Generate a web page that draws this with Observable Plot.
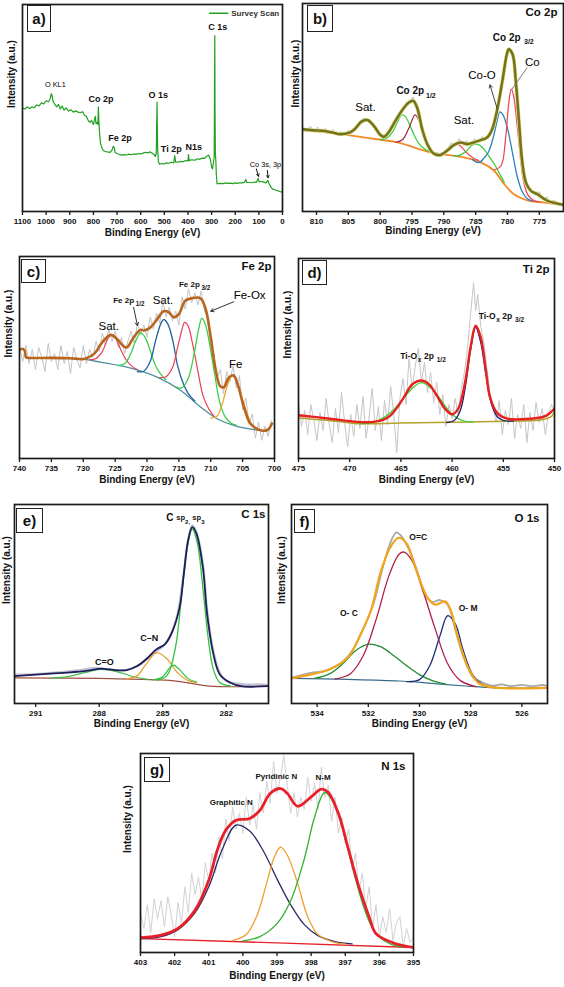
<!DOCTYPE html>
<html><head><meta charset="utf-8">
<script src="https://cdn.jsdelivr.net/npm/d3@7"></script>
<script src="https://cdn.jsdelivr.net/npm/@observablehq/plot@0.6"></script>
<style>
body{margin:0;background:#fff;}
#root{position:relative;width:564px;height:987px;overflow:hidden;background:#fff;font-family:"Liberation Sans",Arial,sans-serif;}
.tag{position:absolute;border:1.6px solid #222;background:#fff;font-weight:bold;font-size:15px;display:flex;align-items:center;justify-content:center;box-sizing:border-box;line-height:1;color:#111;}
</style></head><body><div id="root"></div>
<script>
// ---------------- DATA (x = binding energy eV, y = relative intensity 0..100) ----------------
// Panel a: survey
const aTicks = [1100,1000,900,800,700,600,500,400,300,200,100,0];
const aSurvey = [[1100,50],[1090,49.5],[1080,50.5],[1070,49.8],[1060,50.6],[1050,50.2],[1040,51.5],[1030,51],[1020,52.5],[1010,52],[1000,53.5],[990,53],[983,54.5],[978,57],[975,56],[970,53],[962,51.5],[955,50.5],[948,51.8],[940,49.5],[932,51],[925,49],[915,50],[905,48.5],[895,49.2],[885,48],[875,48.6],[865,48],[855,47.8],[845,48.2],[838,46.5],[830,46],[822,44],[815,43],[808,44],[800,42],[795,44.5],[792,46],[789,42.5],[785,43],[781,42],[779,50.5],[777,44],[774,38],[770,33],[765,31],[758,29.5],[750,29],[740,28.8],[730,28.5],[722,29.5],[716,31.5],[712,31],[708,28.5],[700,28],[690,27.5],[680,27.2],[670,27.5],[660,27.3],[650,27.7],[640,27.4],[630,27.8],[620,27.6],[610,28],[600,27.8],[590,28.2],[580,28.6],[570,28.3],[560,28.8],[550,28],[543,27.6],[538,26.5],[534,28],[531,52.8],[528,30],[525,24],[520,22.8],[510,23.2],[500,23],[490,23.5],[480,23.3],[470,23.8],[460,23.5],[456,27],[452,23.8],[440,24],[430,24.2],[420,24],[410,24.6],[400,24.4],[398,27.5],[395,24.6],[385,25],[370,24.8],[360,25.5],[350,25.2],[340,25.8],[330,25.6],[320,26.8],[312,27.2],[305,25],[300,21.5],[296,20.6],[292,23.8],[289,26],[287.5,60],[286.4,85],[285.5,50],[284,28],[282,24.5],[280,18],[277,13.4],[270,13.5],[260,13.6],[250,13.5],[240,13.8],[230,13.6],[220,13.7],[210,13.5],[200,13.8],[190,13.6],[180,13.9],[170,13.8],[160,14.2],[155,15.5],[151,14],[140,14],[130,13.9],[120,14.2],[110,14.1],[103,16],[99,14.3],[90,14.5],[80,14.2],[70,13.8],[62,15],[58,13.8],[50,12],[42,10.8],[30,10.4],[20,10],[10,9.6],[0,9.3]];
const aBoldLabels = [{x:768.3,y:54.3,t:"Co 2p"},{x:687.5,y:35.6,t:"Fe 2p"},{x:525.9,y:56,t:"O 1s"},{x:470.6,y:30.3,t:"Ti 2p"},{x:375.7,y:31.1,t:"N1s"},{x:273.6,y:89,t:"C 1s"}];
const aSmallLabels = [{x:961,y:61.2,t:"O KL1"},{x:72.3,y:22.5,t:"Co 3s, 3p"}];
const aArrows = [{x1:110.6,y1:20.6,x2:102,y2:17},{x1:64,y1:19.8,x2:61,y2:16.3}];
const aLegendLine = [[309,95.8],[231,95.8]];
const aLegendText = [{x:217,y:95.8,t:"Survey Scan"}];

// Panel b: Co 2p
const bTicks = [810,805,800,795,790,785,780,775];
const bRaw = [[812.2,40.5],[811.6,38.5],[811,41],[810.4,39],[809.8,40.5],[809.2,38],[808.6,40],[808,37.5],[807.4,39.5],[806.8,37],[806.2,38.5],[805.6,36.5],[805,39],[804.4,38],[803.8,41.5],[803.2,42.5],[802.6,45],[802,43.5],[801.4,42],[800.8,40],[800.2,37],[799.6,36],[799,37.5],[798.4,39.5],[797.8,42],[797.2,46],[796.6,48.5],[796,51],[795.4,53.5],[794.8,55],[794.2,49],[793.6,42],[793,36],[792.4,31],[791.8,28.5],[791.2,27],[790.6,28],[790,28.5],[789.4,30.5],[788.8,33],[788.2,31.5],[787.6,35],[787,32.5],[786.4,34],[785.8,31.5],[785.2,35],[784.6,33],[784,36],[783.4,34.5],[782.8,37],[782.2,42],[781.6,50],[781,60],[780.4,71],[779.8,79],[779.2,75],[778.6,60],[778,39],[777.4,19],[776.8,12],[776.2,10.5],[775.6,8.5],[775,9.5],[774.4,6],[773.8,7],[773.2,4.5],[772.6,5.5],[772,3.5],[771.2,4]];
const bBg = [[812.2,39.1],[806.3,37.2],[802.6,35.6],[797.3,33.2],[792.1,28.4],[786.9,26],[784.2,23.6],[782.1,19.6],[780.5,13.1],[779,8.3],[776.9,5.4],[774.2,4.3],[771.2,3.2]];
const bSat1 = [[806,37.3],[804.5,38.5],[803.5,41],[802.6,43],[802,43.5],[801.2,41.5],[800.3,37.5],[799.5,35]];
const bGreen1 = [[800,34.5],[799,35.2],[798,38.5],[797.2,43.5],[796.6,46.5],[796,45.5],[795,39],[794,33],[793,30],[792,28.6],[791,28]];
const bRed1 = [[797.5,33.3],[796.5,34.5],[795.5,40],[794.5,46.5],[793.8,43],[793,35],[792.3,30],[791.5,28],[790.5,27.6]];
const bRed2 = [[791,27.6],[790,28],[789,30.5],[788.2,32.7],[787.4,31.5],[786.5,28.5],[785.5,26],[784.5,24.5]];
const bGreen2 = [[788.5,26.8],[787.5,27],[786.5,29],[785.5,32],[784.8,32.4],[784,31],[783,27],[782,22.5],[781.2,18],[780.5,14]];
const bBlue = [[785.5,25],[784.5,23.5],[783.6,26],[783,28.5],[782.2,36],[781.6,44],[781.2,47.9],[780.7,46.5],[780,40],[779.2,28],[778.4,16],[777.6,9],[776.8,6],[776,5]];
const bRedCo = [[782,20],[781,22],[780.3,35],[779.8,52],[779.4,58.8],[779,55],[778.5,42],[778,27],[777.5,15],[776.8,8],[776,5.5],[775,4.5]];
const bEnv = [[812.2,39.6],[810.5,39],[809,38.8],[807.5,38],[806.3,37.2],[805,37.7],[804,39.6],[802.9,43.3],[802,44],[801,41.2],[800,36.9],[799.4,35.9],[798.7,38],[797.6,43.6],[796.6,48.4],[795.5,52.4],[794.8,53.2],[794.2,50],[793.4,39.6],[792.6,32.4],[791.6,27.9],[790.5,27.2],[789.5,29.2],[788.4,32],[787.4,33.2],[786.3,32.4],[785.3,33.2],[784.2,34.3],[783.2,35.6],[782.4,39.6],[781.6,49.2],[780.8,62.8],[780.1,75.6],[779.8,78],[779.2,75.6],[778.7,62.8],[778.2,43.6],[777.7,24.4],[777.1,13.9],[776.3,9.9],[775.3,8.3],[773.7,5.1],[771.2,3.2]];
const bLabels = [{x:802.3,y:50,t:"Sat."},{x:786.85,y:43.6,t:"Sat."},{x:784.0,y:65.7,t:"Co-O"},{x:776.1,y:71.6,t:"Co"}];
const bBold = [{x:797.45,y:58,t:"Co 2p"},{x:782.3,y:83.3,t:"Co 2p"}];
const bSubs = [{x:792.8,y:55.8,t:"1/2"},{x:777.4,y:81.4,t:"3/2"}];
const bArrows = [{x1:781.6,y1:49.2,x2:782.75,y2:60.9}];
const bLinks = [{x1:776.9,y1:69.2,x2:779.3,y2:58.8}];

// Panel c: Fe 2p
const cTicks = [740,735,730,725,720,715,710,705,700];
const cRaw = [[740,55],[739.5,48],[739,56],[738.5,47],[738,54],[737.5,44],[737,55],[736.5,50],[736,43],[735.5,57],[735,48],[734.5,52],[734,44],[733.5,56],[733,47],[732.5,53],[732,42],[731.5,55],[731,49],[730.5,45],[730,56],[729.5,47],[729,54],[728.5,50],[728,58],[727.5,53],[727,62],[726.5,56],[726,64],[725.5,58],[725,63],[724.5,55],[724,60],[723.5,52],[723,58],[722.5,63],[722,57],[721.5,67],[721,61],[720.5,66],[720,60],[719.5,70],[719,64],[718.5,72],[718,67],[717.5,78],[717,70],[716.5,75],[716,68],[715.5,73],[715,66],[714.5,80],[714,74],[713.5,84],[713,77],[712.5,82],[712,76],[711.5,83],[711,73],[710.5,70],[710,55],[709.5,52],[709,40],[708.5,44],[708,32],[707.5,43],[707,38],[706.5,46],[706,35],[705.5,41],[705,24],[704.5,30],[704,17],[703.5,22],[703,10],[702.5,18],[702,9],[701.5,16],[701,11],[700.5,19]];
const cBg = [[738.8,49.9],[735,49.8],[730.4,49.3],[727.3,47.7],[722.1,44.4],[718.4,40.3],[714.7,33.7],[711.6,25.5],[709,19.7],[706.4,16.4],[703.2,14.3],[701.2,13.7]];
const cSat1 = [[729,48.8],[728,49.5],[727,53],[726.2,59],[725.6,61.3],[725,60],[724.2,54.5],[723.3,49],[722.3,45.5],[721.5,44]];
const cGreen1 = [[724.5,46],[723.5,47],[722.6,51.5],[721.8,58],[721,62.2],[720.3,60],[719.5,53.5],[718.6,45.5],[717.8,41.5],[717,39]];
const cBlue = [[721.5,43],[720.5,43.2],[719.5,48],[718.6,59],[717.8,67],[717.4,68.8],[716.8,67],[716,59],[715.2,46],[714.3,37],[713.5,32],[712.5,28.5]];
const cRed2 = [[718,40],[717,40.5],[716,45],[715.2,55],[714.5,64],[714.1,67.4],[713.6,66],[712.8,56],[712,43],[711.2,31],[710.3,24.5],[709.5,21]];
const cGreen2 = [[715.5,35.5],[714.5,35],[713.5,40],[712.6,52],[711.9,64],[711.4,69.4],[710.9,67],[710.2,57],[709.4,42],[708.6,28],[707.8,21],[706.8,17.5],[706,16.5]];
const cOrange = [[710,20],[709,21],[708.2,27],[707.4,36],[706.7,40.8],[706,39],[705.3,32],[704.5,24],[703.7,17.5],[703,15]];
const cEnv = [[740,53.5],[739.6,54.3],[739.2,53.5],[739,50.2],[738.8,49.9],[735,49.8],[732,49.6],[729.9,49.3],[728.3,51.8],[727,57.6],[725.7,61.2],[724.7,59.2],[723.6,55.4],[723.1,55.1],[722.1,60],[721,63.7],[720.5,63.4],[719.5,64.8],[718.4,69],[717.4,72.9],[716.6,72.4],[715.8,69.9],[715,71.5],[714,78.1],[712.9,79.4],[711.6,79.3],[710.8,74],[710,60],[709.3,45.2],[708.5,35.7],[707.9,35.4],[707.2,40],[706.4,41.1],[705.8,37],[704.8,25.5],[703.8,17.3],[702.5,14.3],[701.4,13.8],[700.9,14.6],[700.4,17.3]];
const cLabels = [{x:726.0,y:65.3,t:"Sat."},{x:717.5,y:78.1,t:"Sat."},{x:703.9,y:80.6,t:"Fe-Ox"},{x:706.1,y:46.5,t:"Fe"}];
const cBold = [{x:725.3,y:78.1,t:"Fe 2p"},{x:715.0,y:86,t:"Fe 2p"}];
const cSubs = [{x:721.75,y:76.4,t:"1/2"},{x:711.45,y:84.3,t:"3/2"}];
const cArrows = [{x1:722.1,y1:74.8,x2:721.5,y2:65.8},{x1:706.4,y1:77.6,x2:710.0,y2:72.9}];

// Panel d: Ti 2p
const dTicks = [475,470,465,460,455,450];
const dRaw = [[475,28],[474.7,16],[474.4,24],[474.1,12],[473.8,27],[473.5,19],[473.2,9],[472.9,23],[472.6,14],[472.3,30],[472,17],[471.7,8],[471.4,25],[471.1,13],[470.8,33],[470.5,18],[470.2,6],[469.9,22],[469.6,11],[469.3,27],[469,15],[468.7,31],[468.4,10],[468.1,21],[467.8,35],[467.5,14],[467.2,26],[466.9,9],[466.6,29],[466.3,17],[466,36],[465.7,22],[465.4,3],[465.1,30],[464.8,40],[464.5,27],[464.2,50],[463.9,35],[463.6,46],[463.3,55],[463,38],[462.7,48],[462.4,33],[462.1,43],[461.8,28],[461.5,38],[461.2,22],[460.9,32],[460.6,16],[460.3,27],[460,20],[459.7,30],[459.4,22],[459.1,35],[458.8,43],[458.5,55],[458.2,72],[457.9,88],[457.7,74],[457.5,82],[457.2,66],[456.9,58],[456.6,45],[456.3,33],[456,26],[455.7,18],[455.4,29],[455.1,12],[454.8,24],[454.5,17],[454.2,30],[453.9,10],[453.6,22],[453.3,15],[453,27],[452.7,8],[452.4,23],[452.1,14],[451.8,28],[451.5,18],[451.2,25],[450.9,12],[450.6,22],[450.3,27],[450,24]];
const dBg = [[475,20.3],[471,18.5],[469.3,17.4],[465,17.8],[460,18.1],[455,18.6],[452,19],[451,19.6],[450.3,21],[450,23.5]];
const dGreen = [[469,17.4],[468,17.8],[467,19.5],[466,23],[465,28.5],[464,34.5],[463,37.9],[462,35],[461,28.5],[460,22],[459,19],[458,18.2]];
const dNavy = [[460.5,18],[459.8,19],[459.2,24],[458.7,36],[458.2,54],[457.7,65.6],[457.2,58],[456.7,42],[456.2,28],[455.6,21],[455,19],[454,18.7]];
const dEnv = [[475,21.6],[473.5,20.8],[471.9,19.9],[469.3,18.3],[467.7,18.3],[466.8,19.2],[466,21.6],[465.3,26],[464.7,30.7],[463.9,37],[463,39],[462.3,37.3],[461.5,31.6],[460.7,24.9],[460,22.1],[459.4,24.9],[458.7,39],[458.2,55.6],[457.7,66.4],[457.2,60.6],[456.7,44],[456.3,30.7],[455.6,22.8],[454.6,19.9],[452.3,19.9],[451,21],[450.5,22.5],[450,25]];
const dBold = [{x:465.06,y:51,t:"Ti-O"},{x:462.75,y:51,t:"2p"},{x:457.4,y:70.9,t:"Ti-O"},{x:455.1,y:70.9,t:"2p"}];
const dSubs = [{x:463.35,y:49.4,t:"x"},{x:461.5,y:49.4,t:"1/2"},{x:455.7,y:69.3,t:"x"},{x:453.85,y:69.3,t:"3/2"}];

// Panel e: C 1s
const eTicks = [291,288,285,282];
const eRaw = [[292,14.5],[291,14.8],[290,15.6],[289,16.6],[288.3,17.8],[287.6,17.3],[287,16.5],[286.5,17.5],[286,20],[285.5,25],[285,28.5],[284.6,35],[284.3,45],[284,66],[283.8,82],[283.6,89.5],[283.4,86],[283.1,70],[282.9,47],[282.6,26],[282.3,15.5],[282,11.5],[281.5,10],[281,9.5],[280.5,9.6],[280,9.4]];
const eBg = [[292,12.9],[288,12.6],[286,12.1],[284.7,11.6],[283.8,10.4],[282.8,8.7],[280,8.7]];
const eGreenCO = [[290.3,12.8],[289.5,13.5],[288.7,15.5],[287.9,17.1],[287.1,15.8],[286.3,13.3],[285.7,12.1]];
const eOrangeCN = [[286.7,12.3],[286.2,14],[285.8,19.5],[285.3,25.5],[284.8,22.5],[284.3,15.5],[283.8,11.5],[283.4,10.6]];
const eGreenSmall = [[285.5,11.8],[285,13.5],[284.7,17.5],[284.5,19.3],[284.2,17],[283.8,12.5],[283.4,10.8]];
const eGreenMain = [[285.3,11.8],[284.8,14],[284.4,28],[284.1,55],[283.85,78],[283.6,87.7],[283.35,80],[283.1,58],[282.85,33],[282.6,17],[282.3,10.5],[281.8,8.8]];
const eEnv = [[292,13.8],[290.3,15],[288.7,16.3],[287.9,17.5],[287.5,17.1],[286.7,16.8],[286.2,18.8],[285.7,23],[285.3,27.2],[284.9,29.7],[284.6,34.8],[284.2,48.2],[284,65],[283.8,81.8],[283.6,88.6],[283.4,85.2],[283.1,68.4],[282.9,44.9],[282.6,24.7],[282.3,14.6],[281.8,10.4],[281.3,8.7],[280,8.7]];
const eBold = [{x:285.63,y:32.8,t:"C–N"},{x:287.75,y:21,t:"C=O"}];
const eBig = [{x:284.83,y:93.3,t:"C"}];
const eMid = [{x:284.36,y:93.3,t:"sp"},{x:283.6,y:93.3,t:"sp"}];
const eSubs = [{x:283.94,y:91.4,t:"2,"},{x:283.18,y:91.4,t:"3"}];

// Panel f: O 1s
const fTicks = [534,532,530,528,526];
const fRaw = [[535,13],[534.6,14.2],[534.2,15.5],[533.8,16],[533.4,17.8],[533,21],[532.6,27],[532.2,37.5],[531.8,50],[531.4,70],[531.1,82],[530.9,86],[530.7,84],[530.4,77],[530.1,67],[529.8,55],[529.5,51],[529.2,52],[528.9,49.5],[528.6,37],[528.3,24],[527.9,13],[527.6,11],[527.2,9],[526.8,9.6],[526.4,8.7],[526,9.4],[525.6,8.6],[525.2,9.3],[525,8.8]];
const fBg = [[535,12.6],[532.8,12.1],[530.8,11.3],[529.5,10.1],[528.2,8.8],[527,7.9],[525,7.9]];
const fGreen = [[534.1,12.6],[533.5,15],[533,20],[532.5,26.5],[532,29.8],[531.5,28.5],[531,24],[530.5,19],[530,14.5],[529.5,11.5],[529,9.8]];
const fCrimson = [[533.3,12.3],[532.7,15],[532.2,24],[531.7,42],[531.2,64],[530.8,75],[530.6,76.1],[530.3,72],[529.9,58],[529.4,38],[528.9,20],[528.4,11.5],[527.8,8.5]];
const fNavy = [[530.5,11],[530,12],[529.6,19],[529.2,34],[528.9,44.1],[528.6,40],[528.3,27],[527.9,14],[527.5,9.3],[527,8.1]];
const fEnv = [[535,12.6],[534.1,15],[533.5,17.2],[532.8,23.1],[532.3,34.8],[531.9,46.6],[531.5,66.8],[531.1,79.5],[530.8,83.3],[530.5,80.3],[530.1,66],[529.7,53.4],[529.4,49.7],[529,51.3],[528.8,47.5],[528.5,33.2],[528.1,18],[527.7,10.4],[527.2,8.2],[525,7.9]];
const fBold = [{x:530.05,y:83.7,t:"O=C"},{x:532.76,y:45.5,t:"O- C"},{x:528.1,y:47.8,t:"O- M"}];

// Panel g: N 1s
const gTicks = [403,402,401,400,399,398,397,396,395];
const gRaw = [[403,20],[402.9,12],[402.8,24],[402.7,10],[402.6,27],[402.5,17],[402.4,26],[402.3,13],[402.2,28],[402.1,19],[402,8],[401.9,25],[401.8,15],[401.7,33],[401.6,20],[401.5,40],[401.4,29],[401.3,38],[401.2,26],[401.1,45],[401,36],[400.9,50],[400.8,40],[400.7,58],[400.6,47],[400.5,67],[400.4,56],[400.3,73],[400.2,62],[400.1,70],[400,60],[399.9,78],[399.8,64],[399.7,74],[399.6,62],[399.5,80],[399.4,70],[399.3,86],[399.2,75],[399.1,96],[399,80],[398.9,88],[398.8,99],[398.7,84],[398.6,70],[398.5,80],[398.4,68],[398.3,78],[398.2,72],[398.1,88],[398,76],[397.9,85],[397.8,72],[397.7,93],[397.6,78],[397.5,84],[397.4,66],[397.3,78],[397.2,60],[397.1,68],[397,55],[396.9,62],[396.8,42],[396.7,50],[396.6,30],[396.5,40],[396.4,22],[396.3,33],[396.2,12],[396.1,24],[396,8],[395.9,18],[395.8,10],[395.7,22],[395.6,6],[395.5,15],[395.4,18],[395.3,3],[395.2,12],[395.1,5],[395,8]];
const gBg = [[403,7],[399,4.8],[395,2.5]];
const gNavy = [[403,7],[402.4,8],[401.9,11.5],[401.4,20],[401,33],[400.6,52],[400.2,64],[399.8,61],[399.4,51],[399,37],[398.6,24],[398.2,14],[397.8,8.5],[397.3,5.5],[396.8,4.3]];
const gOrange = [[400.3,6],[399.9,9],[399.6,18],[399.3,35],[399.1,47],[398.9,52.9],[398.7,49],[398.4,35],[398.1,18],[397.8,9],[397.4,5.5],[397,4.2]];
const gGreen = [[400,5.8],[399.5,8],[399,14.5],[398.6,26],[398.2,47],[397.9,68],[397.6,80.4],[397.3,74],[397,57],[396.7,37],[396.4,20],[396.1,9.5],[395.7,4.5],[395.3,2.8]];
const gEnv = [[403,7.5],[402.4,8.7],[401.9,12.1],[401.4,21.3],[401,36.3],[400.75,51.4],[400.5,61.5],[400.2,66.5],[399.8,67.3],[399.5,71.5],[399.2,79.9],[398.9,82.4],[398.7,80],[398.4,73.5],[398,78.2],[397.7,82.1],[397.5,80.5],[397.2,69.8],[396.9,51.4],[396.6,33],[396.3,17.9],[396.1,9.5],[395.6,4.9],[395,2.5]];
const gBold = [{x:400.34,y:75.4,t:"Graphitic N"},{x:399.02,y:88.3,t:"Pyridinic N"},{x:397.65,y:87.9,t:"N-M"}];

// ---------------- RENDERING ----------------
const root = document.getElementById("root");
const FONT = '"Liberation Sans", Arial, Helvetica, sans-serif';
const XT = "Binding Energy (eV)", YT = "Intensity (a.u.)";

function ln(data, stroke, sw, curve = "catmull-rom") {
  return Plot.line(data, {x: d => d[0], y: d => d[1], stroke, strokeWidth: sw, curve, clip: true, strokeLinejoin: "round", strokeLinecap: "round"});
}
function txt(data, o) {
  return Plot.text(data, {x: "x", y: "y", text: "t", fill: "#111", ...o});
}

function panel(cfg) {
  const [L, T, R, B] = cfg.box;
  const ml = cfg.ml, mr = 2, mt = 3, mb = 36;
  const marks = [
    ...cfg.marks,
    Plot.frame({stroke: "#1a1a1a", strokeWidth: 1.7}),
    Plot.axisX({ticks: cfg.ticks, tickSize: 4, tickPadding: 2.5, tickFormat: d => String(d), fontSize: 8, fontWeight: "bold", label: null, stroke: "#1a1a1a", strokeWidth: 1.3}),
    Plot.text([XT], {frameAnchor: "bottom", dy: cfg.xdy, fontSize: 10, fontWeight: "bold", fill: "#111"}),
    Plot.text([YT], {frameAnchor: "left", dx: cfg.ydx, rotate: -90, fontSize: 10, fontWeight: "bold", fill: "#111"})
  ];
  if (cfg.title) marks.push(Plot.text([cfg.title], {frameAnchor: "top-right", textAnchor: "end", lineAnchor: "middle", dx: cfg.tdx, dy: cfg.tdy, fontSize: 11.5, fontWeight: "bold", fill: "#111"}));
  const svg = Plot.plot({
    width: R - L + ml + mr, height: B - T + mt + mb,
    marginLeft: ml, marginRight: mr, marginTop: mt, marginBottom: mb,
    style: {fontFamily: FONT, fontSize: "8px", fontWeight: "bold", color: "#111", background: "transparent", overflow: "visible"},
    x: {domain: cfg.xDomain},
    y: {domain: [0, 100], axis: null},
    marks
  });
  svg.style.position = "absolute";
  svg.style.left = (L - ml) + "px";
  svg.style.top = (T - mt) + "px";
  svg.style.maxWidth = "none";
  root.appendChild(svg);
  const [tl, tt, tw, th] = cfg.tag;
  const div = document.createElement("div");
  div.className = "tag";
  div.textContent = cfg.tagText;
  Object.assign(div.style, {left: tl + "px", top: tt + "px", width: tw + "px", height: th + "px"});
  root.appendChild(div);
}

// a) survey
panel({box: [22, 4, 282, 211], ml: 22, xDomain: [1100, 0], ticks: aTicks, xdy: 24, ydx: -11,
  tag: [27, 5, 24, 27], tagText: "a)",
  marks: [
    ln(aSurvey, "#22a022", 1.2, "linear"),
    ln(aLegendLine, "#22a022", 1.4, "linear"),
    txt(aLegendText, {textAnchor: "start", fontSize: 8, fontWeight: "bold", fill: "#333"}),
    txt(aBoldLabels, {fontSize: 9, fontWeight: "bold"}),
    txt(aSmallLabels, {fontSize: 7.3, fontWeight: "normal", fill: "#000"}),
    Plot.arrow(aArrows, {x1: "x1", y1: "y1", x2: "x2", y2: "y2", stroke: "#111", strokeWidth: 1, headLength: 4})
  ]});

// b) Co 2p
panel({box: [302, 3, 563, 211], ml: 20, xDomain: [812.2, 771.2], ticks: bTicks, xdy: 22, ydx: -7,
  title: "Co 2p", tdx: -6, tdy: 9, tag: [307, 5, 26, 27], tagText: "b)",
  marks: [
    ln(bRaw, "#b9b9b9", 1, "linear"),
    ln(bBg, "#f08a2a", 1.8),
    ln(bSat1, "#33cc33", 1.2),
    ln(bGreen1, "#33cc33", 1.2),
    ln(bRed1, "#a01f45", 1.2),
    ln(bRed2, "#f0485a", 1.2),
    ln(bGreen2, "#33cc33", 1.2),
    ln(bBlue, "#2e7fbf", 1.3),
    ln(bRedCo, "#f0485a", 1.3),
    ln(bEnv, "#ebe6a0", 4),
    ln(bEnv, "#74741c", 2.6),
    txt(bLabels, {fontSize: 11.5, fontWeight: "normal", fill: "#000"}),
    txt(bBold, {fontSize: 10, fontWeight: "bold", textAnchor: "start"}),
    txt(bSubs, {fontSize: 7, fontWeight: "bold", textAnchor: "start"}),
    Plot.arrow(bArrows, {x1: "x1", y1: "y1", x2: "x2", y2: "y2", stroke: "#444", strokeWidth: 1, headLength: 5}),
    Plot.link(bLinks, {x1: "x1", y1: "y1", x2: "x2", y2: "y2", stroke: "#777", strokeWidth: 1})
  ]});

// c) Fe 2p
panel({box: [19, 256, 274, 458], ml: 19, xDomain: [740, 700], ticks: cTicks, xdy: 24, ydx: -11,
  title: "Fe 2p", tdx: -3, tdy: 10, tag: [21, 259, 25, 24], tagText: "c)",
  marks: [
    ln(cRaw, "#c4c4c4", 1, "linear"),
    ln(cBg, "#4d8f9a", 1.3),
    ln(cSat1, "#ea3f5a", 1.2),
    ln(cGreen1, "#2ecc40", 1.2),
    ln(cBlue, "#1f5fa0", 1.3),
    ln(cRed2, "#ea3f5a", 1.2),
    ln(cGreen2, "#2ecc40", 1.2),
    ln(cOrange, "#f0a020", 1.2),
    ln(cEnv, "#b8651e", 2.6),
    txt(cLabels, {fontSize: 11.5, fontWeight: "normal", fill: "#000"}),
    txt(cBold, {fontSize: 8, fontWeight: "bold", textAnchor: "start"}),
    txt(cSubs, {fontSize: 6.3, fontWeight: "bold", textAnchor: "start"}),
    Plot.arrow(cArrows, {x1: "x1", y1: "y1", x2: "x2", y2: "y2", stroke: "#333", strokeWidth: 1, headLength: 5})
  ]});

// d) Ti 2p
panel({box: [298, 258, 554, 458], ml: 20, xDomain: [475, 450], ticks: dTicks, xdy: 24, ydx: -11,
  title: "Ti 2p", tdx: -5, tdy: 11, tag: [302, 260, 25, 25], tagText: "d)",
  marks: [
    ln(dRaw, "#c6c6c6", 1, "linear"),
    ln(dBg, "#b5a22a", 1.5),
    ln(dGreen, "#30d030", 1.3),
    ln(dNavy, "#1a1a6e", 1.3),
    ln(dEnv, "#e82020", 2.4),
    txt(dBold, {fontSize: 8.5, fontWeight: "bold", textAnchor: "start"}),
    txt(dSubs, {fontSize: 6.5, fontWeight: "bold", textAnchor: "start"})
  ]});

// e) C 1s
panel({box: [14, 504, 268, 703], ml: 14, xDomain: [292, 280], ticks: eTicks, xdy: 23, ydx: -7.5,
  title: "C 1s", tdx: -3, tdy: 10, tag: [16, 508, 27, 25], tagText: "e)",
  marks: [
    ln(eRaw, "#c2c2d2", 2.2),
    ln(eBg, "#a0523d", 1.2),
    ln(eGreenCO, "#45c050", 1.2),
    ln(eOrangeCN, "#e8a030", 1.3),
    ln(eGreenSmall, "#30c040", 1.2),
    ln(eGreenMain, "#30c040", 1.3),
    ln(eEnv, "#1c1f5a", 1.8),
    txt(eBold, {fontSize: 9, fontWeight: "bold"}),
    txt(eBig, {fontSize: 10, fontWeight: "bold", textAnchor: "start"}),
    txt(eMid, {fontSize: 7.5, fontWeight: "bold", textAnchor: "start"}),
    txt(eSubs, {fontSize: 6, fontWeight: "bold", textAnchor: "start"})
  ]});

// f) O 1s
panel({box: [291, 504, 547, 703], ml: 20, xDomain: [535, 525], ticks: fTicks, xdy: 23, ydx: -9.5,
  title: "O 1s", tdx: -8, tdy: 14, tag: [294, 509, 21, 24], tagText: "f)",
  marks: [
    ln(fRaw, "#a8a8a8", 1.8),
    ln(fBg, "#3a6a8a", 1.2),
    ln(fGreen, "#1f8f2f", 1.3),
    ln(fCrimson, "#b0204a", 1.3),
    ln(fNavy, "#22307a", 1.3),
    ln(fEnv, "#f2a51a", 2.2),
    txt(fBold, {fontSize: 8.5, fontWeight: "bold"})
  ]});

// g) N 1s
panel({box: [140, 753, 413, 952], ml: 22, xDomain: [403, 395], ticks: gTicks, xdy: 26, ydx: -13,
  title: "N 1s", tdx: -8, tdy: 13, tag: [144, 757, 26, 25], tagText: "g)",
  marks: [
    ln(gRaw, "#d2d2d2", 1, "linear"),
    ln(gBg, "#e8202a", 1.3, "linear"),
    ln(gNavy, "#2a2a6a", 1.3),
    ln(gOrange, "#f0a030", 1.3),
    ln(gGreen, "#30b030", 1.3),
    ln(gEnv, "#e8202a", 2.8),
    txt(gBold, {fontSize: 8, fontWeight: "bold"})
  ]});
</script></body></html>
